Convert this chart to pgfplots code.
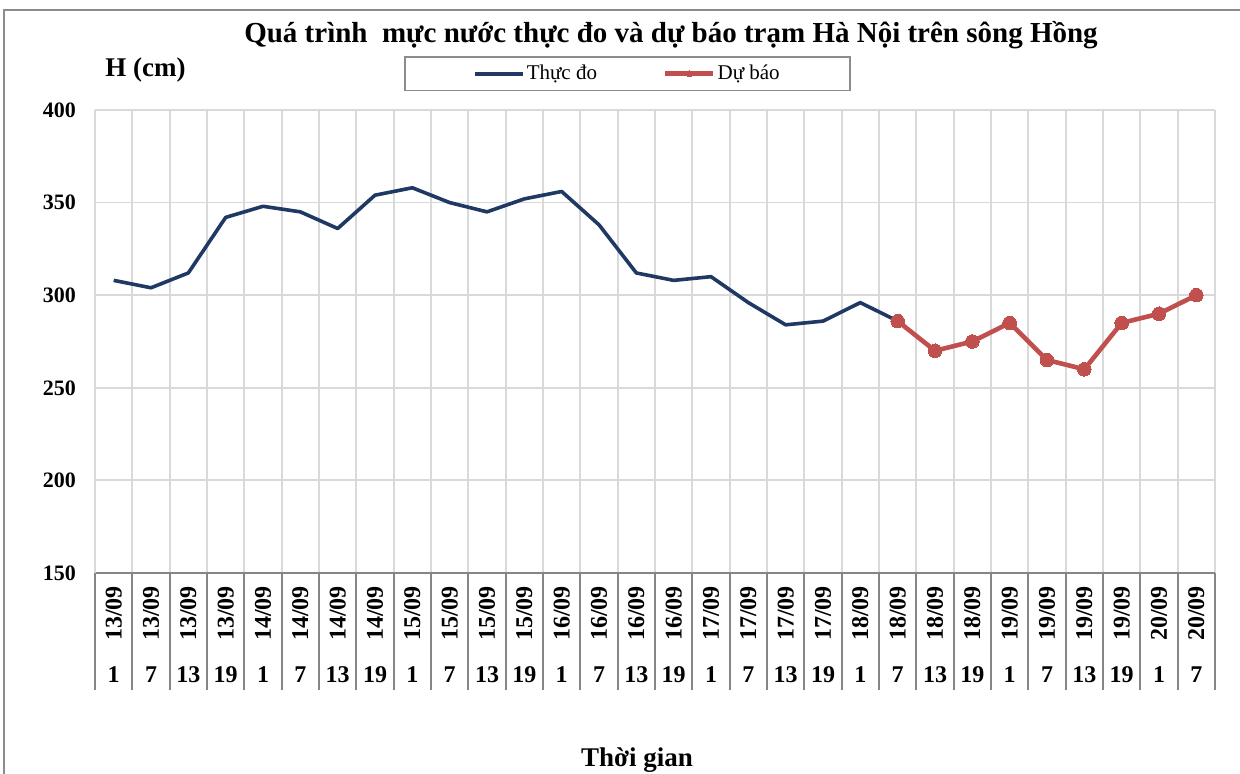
\documentclass[border=0pt]{standalone}
\usepackage{fontspec}
\setmainfont{Liberation Serif}
\usepackage{pgfplots}
\pgfplotsset{compat=1.18}
\definecolor{obs}{RGB}{31,56,100}
\definecolor{fc}{RGB}{192,80,77}
\definecolor{gridc}{RGB}{217,217,217}
\definecolor{axc}{RGB}{134,134,134}
\definecolor{framec}{RGB}{140,140,140}
\begin{document}
\begin{tikzpicture}
\useasboundingbox (0,0) rectangle (620pt,387pt);
\draw[framec, line width=1pt] (2pt,-5pt) -- (2pt,382pt) -- (630pt,382pt);
\begin{axis}[
  at={(47.5pt,100.5pt)}, anchor=south west,
  width=560pt, height=231.5pt, scale only axis,
  xmin=-0.5, xmax=29.5, ymin=150, ymax=400,
  ytick={150,200,...,400},
  xtick={0,...,29},
  xticklabels={
    \rotatebox{90}{13/09},\rotatebox{90}{13/09},\rotatebox{90}{13/09},\rotatebox{90}{13/09},
    \rotatebox{90}{14/09},\rotatebox{90}{14/09},\rotatebox{90}{14/09},\rotatebox{90}{14/09},
    \rotatebox{90}{15/09},\rotatebox{90}{15/09},\rotatebox{90}{15/09},\rotatebox{90}{15/09},
    \rotatebox{90}{16/09},\rotatebox{90}{16/09},\rotatebox{90}{16/09},\rotatebox{90}{16/09},
    \rotatebox{90}{17/09},\rotatebox{90}{17/09},\rotatebox{90}{17/09},\rotatebox{90}{17/09},
    \rotatebox{90}{18/09},\rotatebox{90}{18/09},\rotatebox{90}{18/09},\rotatebox{90}{18/09},
    \rotatebox{90}{19/09},\rotatebox{90}{19/09},\rotatebox{90}{19/09},\rotatebox{90}{19/09},
    \rotatebox{90}{20/09},\rotatebox{90}{20/09}},
  extra x ticks={0,...,29},
  extra x tick labels={1,7,13,19,1,7,13,19,1,7,13,19,1,7,13,19,1,7,13,19,1,7,13,19,1,7,13,19,1,7},
  extra x tick style={major tick length=0pt, tick label style={anchor=base, yshift=-40.5pt}},
  minor xtick={-0.5,0.5,...,29.5},
  xminorgrids, ymajorgrids,
  grid style={gridc, line width=0.9pt},
  minor grid style={gridc, line width=0.9pt},
  axis x line*=bottom, axis y line*=left,
  x axis line style={axc, line width=0.9pt, -},
  y axis line style={gridc, line width=0.9pt, -},
  tick align=outside,
  major tick length=0pt,
  minor tick length=58.5pt,
  minor x tick style={axc, line width=0.9pt},
  xticklabel style={font=\bfseries\fontsize{12}{14}\selectfont, anchor=north, yshift=-3pt},
  yticklabel style={font=\bfseries\fontsize{11}{13}\selectfont, anchor=east, xshift=-6pt},
  /pgf/number format/assume math mode=true,
  legend columns=2,
  legend style={at={(0.4754,1.0782)}, anchor=center, draw=framec, line width=0.8pt,
    font=\fontsize{10.5}{12}\selectfont, inner xsep=34pt, inner ysep=3pt,
    nodes={inner sep=1pt}},
  legend cell align=left,
  /tikz/every even column/.append style={column sep=32pt},
  legend image code/.code={\draw[mark repeat=2,mark phase=2,#1, mark size=1.6pt] plot coordinates {(0pt,0pt)(12pt,0pt)(24pt,0pt)};},
  clip=false,
]
\addplot[obs, line width=1.8pt, line join=round] coordinates {
 (0,308) (1,304) (2,312) (3,342) (4,348) (5,345) (6,336) (7,354) (8,358) (9,350)
 (10,345) (11,352) (12,356) (13,338) (14,312) (15,308) (16,310) (17,296) (18,284) (19,286)
 (20,296) (21,286)};
\addlegendentry{Thực đo}
\addplot[fc, line width=2.3pt, line join=round, mark=*, mark size=3.4pt, mark options={fill=fc, draw=fc, line width=0pt}] coordinates {
 (21,286) (22,270) (23,275) (24,285) (25,265) (26,260) (27,285) (28,290) (29,300)};
\addlegendentry{Dự báo}
\end{axis}
\node[font=\bfseries\fontsize{14.5}{17}\selectfont] at (335.5pt,369.5pt) {Quá trình\ \ mực nước thực đo và dự báo trạm Hà Nội trên sông Hồng};
\node[font=\bfseries\fontsize{13.5}{16}\selectfont] at (72.75pt,352pt) {H (cm)};
\node[font=\bfseries\fontsize{13.5}{16}\selectfont, anchor=base] at (318.5pt,3.7pt) {Thời gian};
\end{tikzpicture}
\end{document}
